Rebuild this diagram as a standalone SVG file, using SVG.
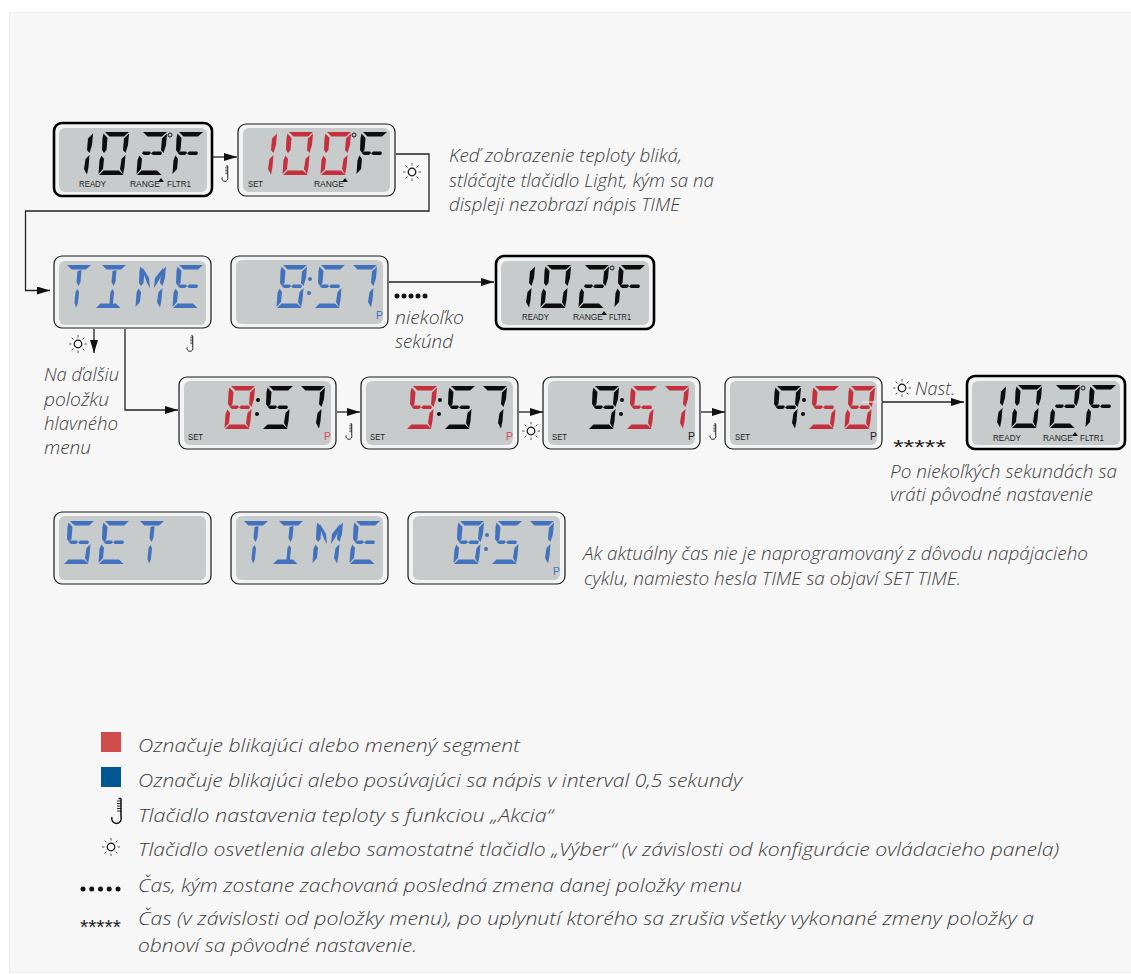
<svg xmlns="http://www.w3.org/2000/svg" width="1131" height="974" viewBox="0 0 1131 974">
<style>
.fr{fill:#f2f3f3;stroke:#1a1a1a;stroke-width:1.2}
.th{stroke:#000;stroke-width:2.6}
.scr{fill:#c8cbcc}
.k{fill:#0d0d0d}.r{fill:#c5303c}.b{fill:#4272bd}
.lb{font-family:"Liberation Sans",sans-serif;font-size:9.5px;fill:#222}
.p{font-family:"Liberation Sans",sans-serif;font-size:10.5px}
.t{font-family:"Open Sans","Noto Sans",sans-serif;font-style:italic;font-size:17.5px;font-weight:300;fill:#3c3c3c}
.l{font-size:18.5px}
.c{fill:none;stroke:#222;stroke-width:1.3}
.star{font-family:"Liberation Sans",sans-serif;fill:#222}
</style>
<defs>
<marker id="ah" markerUnits="userSpaceOnUse" markerWidth="14" markerHeight="10" refX="13" refY="4" orient="auto"><path d="M0 0L13 4L0 8z" fill="#111"/></marker>
<polygon id="a" points="7,0 31,0 26,4.500 11.500,4.500"/>
<polygon id="sb" points="31,1.500 30,13 27.500,21 25,18 26,6.500"/>
<polygon id="sc" points="27.500,23 26.500,35 25,42.500 22,37 23.500,27"/>
<polygon id="sd" points="1,43 5.500,38.500 21,38.500 25.500,43"/>
<polygon id="se" points="3.500,23.500 6,27 5,37 .5,42 1.500,28"/>
<polygon id="sf" points="5.500,1.500 9.500,6 8.500,18 6,21 4,18 4.500,6"/>
<polygon id="g1" points="7,19.500 14,19.500 15,21 13,23 8,23 6,21.500"/>
<polygon id="g2" points="17,19.500 25,19.500 26,21 25,23 17,23 15,21.500"/>
<polygon id="iu" points="17.500,6 21.500,5 20.500,17 18.500,21 16.500,17"/>
<polygon id="il" points="17.500,24 19,27 18,38 16,42.500 14.500,38 15.500,27"/>
<g id="d0"><use href="#a"/><use href="#sb"/><use href="#sc"/><use href="#sd"/><use href="#se"/><use href="#sf"/></g>
<g id="d1"><use href="#sb"/><use href="#sc"/></g>
<g id="d2"><use href="#a"/><use href="#sb"/><use href="#sd"/><use href="#se"/><use href="#g1"/><use href="#g2"/></g>
<g id="d5"><use href="#a"/><use href="#sf"/><use href="#sc"/><use href="#sd"/><use href="#g1"/><use href="#g2"/></g>
<g id="d7"><use href="#a"/><use href="#sb"/><use href="#sc"/></g>
<g id="d8"><use href="#d0"/><use href="#g1"/><use href="#g2"/></g>
<g id="d9"><use href="#a"/><use href="#sb"/><use href="#sc"/><use href="#sd"/><use href="#sf"/><use href="#g1"/><use href="#g2"/></g>
<g id="d4"><use href="#a"/><use href="#sb"/><use href="#sc"/><use href="#sf"/><use href="#g1"/><use href="#g2"/></g>
<g id="dF"><use href="#a"/><use href="#sf"/><use href="#se"/><use href="#g1"/><use href="#g2"/></g>
<g id="lT"><use href="#a"/><use href="#iu"/><use href="#il"/></g>
<g id="lI"><use href="#a"/><use href="#sd"/><use href="#iu"/><use href="#il"/></g>
<g id="lM"><use href="#sf"/><use href="#se"/><use href="#sb"/><use href="#sc"/><polygon points="8,3 14,13 15,23 12,18 8.500,8"/><polygon points="28,3 20,13 19,23 23,17 27.500,8"/></g>
<g id="lE"><use href="#a"/><use href="#sf"/><use href="#se"/><use href="#sd"/><use href="#g1"/><use href="#g2"/></g>
<circle id="dg" cx="0" cy="0" r="2" fill="none" stroke="#111" stroke-width="1"/>
<g id="co"><circle cx="0" cy="0" r="2"/><circle cx="-1" cy="14" r="2"/></g>
<polygon id="tri" points="0,4 3,0 6,4" fill="#111"/>
<g id="sun"><circle r="3.800" fill="none" stroke="#111" stroke-width="1.200"/><path stroke="#111" stroke-width=".7" d="M0-6.500V-9M0 6.500V9M-6.500 0H-9M6.500 0H9M-4.600-4.600L-6.400-6.400M4.600-4.600L6.400-6.400M-4.600 4.600L-6.400 6.400M4.600 4.600L6.400 6.400"/></g>
<g id="therm" fill="none" stroke="#111"><path d="M6-11.500H3.500M6-11.500V7A4.800 4.800 0 1 1 -3 7" stroke-width="1.500"/><path d="M6-9H2M6-6.500H2M6-4H2M6-1.500H2M6 1H2" stroke-width=".9"/></g>
</defs>
<rect width="1131" height="974" fill="#fff"/>
<rect x="9.500" y="12.500" width="1122" height="960" fill="#f7f7f7" stroke="#eee"/>

<g id="connectors" class="c">
<path d="M213 157H237" marker-end="url(#ah)"/>
<path d="M396 154H429V211H25.500V290.500H50" marker-end="url(#ah)"/>
<path d="M94 329V353" marker-end="url(#ah)"/>
<path d="M125 329V410H178" marker-end="url(#ah)"/>
<path d="M389 282H494" marker-end="url(#ah)"/>
<path d="M337 412H360" marker-end="url(#ah)"/>
<path d="M519 412H543" marker-end="url(#ah)"/>
<path d="M701 412H725" marker-end="url(#ah)"/>
<path d="M882 402H964" marker-end="url(#ah)"/>
</g>

<g id="d-102f-a"><rect class="fr th" x="54" y="123" width="158" height="73" rx="8"/><rect class="scr" x="59" y="128" width="148" height="64" rx="6"/>
<g class="k"><use href="#d1" x="62" y="132"/><use href="#d0" x="98" y="132"/><use href="#d2" x="136" y="132"/><use href="#dF" x="172" y="132"/></g><use href="#dg" x="170" y="135"/>
<text class="lb" x="79" y="187" textLength="27" lengthAdjust="spacingAndGlyphs">READY</text><text class="lb" x="130" y="187" textLength="30" lengthAdjust="spacingAndGlyphs">RANGE</text><use href="#tri" x="158" y="178"/><text class="lb" x="167" y="187" textLength="24" lengthAdjust="spacingAndGlyphs">FLTR1</text></g>

<g id="d-100f"><rect class="fr" x="238" y="124" width="157" height="72" rx="8"/><rect class="scr" x="243" y="128" width="147" height="64" rx="6"/>
<g class="r"><use href="#d1" x="246" y="132"/><use href="#d0" x="282" y="132"/><use href="#d0" x="320" y="132"/></g><use class="k" href="#dF" x="356" y="132"/><use href="#dg" x="354" y="135"/>
<text class="lb" x="248" y="187" textLength="15" lengthAdjust="spacingAndGlyphs">SET</text><text class="lb" x="314" y="187" textLength="30" lengthAdjust="spacingAndGlyphs">RANGE</text><use href="#tri" x="342" y="178"/></g>

<g id="d-time"><rect class="fr" x="54" y="256" width="157" height="72" rx="8"/><rect class="scr" x="59" y="261" width="147" height="64" rx="6"/>
<g class="b"><use href="#lT" x="60" y="265"/><use href="#lI" x="95" y="265"/><use href="#lM" x="135" y="265"/><use href="#lE" x="172" y="265"/></g></g>

<g id="d-857-a"><rect class="fr" x="231" y="256" width="157" height="72" rx="8"/><rect class="scr" x="236" y="260" width="147" height="64" rx="6"/>
<g class="b"><use href="#d8" x="276" y="265"/><use href="#co" x="310" y="279"/><use href="#d5" x="314" y="265"/><use href="#d7" x="346" y="265"/></g>
<text class="p" x="376" y="319" fill="#4272bd">P</text></g>

<g id="d-102f-b"><rect class="fr th" x="496" y="256" width="158" height="73" rx="8"/><rect class="scr" x="501" y="261" width="148" height="64" rx="6"/>
<g class="k"><use href="#d1" x="504" y="265"/><use href="#d0" x="540" y="265"/><use href="#d2" x="578" y="265"/><use href="#dF" x="614" y="265"/></g><use href="#dg" x="612" y="268"/>
<text class="lb" x="522" y="320" textLength="27" lengthAdjust="spacingAndGlyphs">READY</text><text class="lb" x="573" y="320" textLength="30" lengthAdjust="spacingAndGlyphs">RANGE</text><use href="#tri" x="601" y="311"/><text class="lb" x="609" y="320" textLength="22" lengthAdjust="spacingAndGlyphs">FLTR1</text></g>

<g id="d-set-1"><rect class="fr" x="179" y="377" width="157" height="72" rx="8"/><rect class="scr" x="184" y="381" width="147" height="64" rx="6"/>
<use class="r" href="#d8" x="224" y="386"/><g class="k"><use href="#co" x="258" y="400"/><use href="#d5" x="262" y="386"/><use href="#d7" x="294" y="386"/></g>
<text class="lb" x="188" y="440" textLength="15" lengthAdjust="spacingAndGlyphs">SET</text><text class="p" x="324" y="440" fill="#d05060">P</text></g>

<g id="d-set-2"><rect class="fr" x="361" y="377" width="157" height="72" rx="8"/><rect class="scr" x="366" y="381" width="147" height="64" rx="6"/>
<use class="r" href="#d9" x="406" y="386"/><g class="k"><use href="#co" x="440" y="400"/><use href="#d5" x="444" y="386"/><use href="#d7" x="476" y="386"/></g>
<text class="lb" x="370" y="440" textLength="15" lengthAdjust="spacingAndGlyphs">SET</text><text class="p" x="506" y="440" fill="#d05060">P</text></g>

<g id="d-set-3"><rect class="fr" x="543" y="377" width="157" height="72" rx="8"/><rect class="scr" x="548" y="381" width="147" height="64" rx="6"/>
<g class="k"><use href="#d9" x="588" y="386"/><use href="#co" x="622" y="400"/></g><g class="r"><use href="#d5" x="626" y="386"/><use href="#d7" x="658" y="386"/></g>
<text class="lb" x="552" y="440" textLength="15" lengthAdjust="spacingAndGlyphs">SET</text><text class="p" x="688" y="440" fill="#222">P</text></g>

<g id="d-set-4"><rect class="fr" x="725" y="377" width="157" height="72" rx="8"/><rect class="scr" x="730" y="381" width="147" height="64" rx="6"/>
<g class="k"><use href="#d4" x="770" y="386"/><use href="#co" x="804" y="400"/></g><g class="r"><use href="#d5" x="808" y="386"/><use href="#d8" x="844" y="386"/></g>
<text class="lb" x="735" y="440" textLength="15" lengthAdjust="spacingAndGlyphs">SET</text><text class="p" x="870" y="440" fill="#222">P</text>
<path d="M862 402H882" stroke="#f2f3f3" stroke-width="1"/></g>

<g id="d-102f-c"><rect class="fr th" x="967" y="376" width="158" height="73" rx="8"/><rect class="scr" x="972" y="381" width="148" height="64" rx="6"/>
<g class="k"><use href="#d1" x="975" y="385"/><use href="#d0" x="1011" y="385"/><use href="#d2" x="1049" y="385"/><use href="#dF" x="1085" y="385"/></g><use href="#dg" x="1083" y="388"/>
<text class="lb" x="993" y="441" textLength="28" lengthAdjust="spacingAndGlyphs">READY</text><text class="lb" x="1043" y="441" textLength="30" lengthAdjust="spacingAndGlyphs">RANGE</text><use href="#tri" x="1072" y="432"/><text class="lb" x="1080" y="441" textLength="24" lengthAdjust="spacingAndGlyphs">FLTR1</text></g>

<g id="d-set-label"><rect class="fr" x="54" y="512" width="157" height="72" rx="8"/><rect class="scr" x="59" y="516" width="147" height="64" rx="6"/>
<g class="b"><use href="#d5" x="63" y="521"/><use href="#lE" x="98" y="521"/><use href="#lT" x="133" y="521"/></g></g>

<g id="d-time-label"><rect class="fr" x="231" y="512" width="157" height="72" rx="8"/><rect class="scr" x="236" y="516" width="147" height="64" rx="6"/>
<g class="b"><use href="#lT" x="237" y="521"/><use href="#lI" x="272" y="521"/><use href="#lM" x="312" y="521"/><use href="#lE" x="349" y="521"/></g></g>

<g id="d-857-b"><rect class="fr" x="408" y="512" width="157" height="72" rx="8"/><rect class="scr" x="413" y="516" width="147" height="64" rx="6"/>
<g class="b"><use href="#d8" x="453" y="521"/><use href="#co" x="487" y="535"/><use href="#d5" x="491" y="521"/><use href="#d7" x="523" y="521"/></g>
<text class="p" x="553" y="575" fill="#4272bd">P</text></g>

<g id="icons">
<use href="#therm" transform="translate(224 173) scale(.62)"/>
<use href="#therm" transform="translate(189 343) scale(.62)"/>
<use href="#therm" transform="translate(348 431) scale(.62)"/>
<use href="#therm" transform="translate(712 431) scale(.62)"/>
<use href="#sun" x="412" y="172"/><use href="#sun" x="78" y="344"/><use href="#sun" x="531" y="431"/><use href="#sun" x="902" y="388"/>
<g fill="#111"><circle cx="397" cy="296" r="2.500"/><circle cx="404" cy="296" r="2.500"/><circle cx="411" cy="296" r="2.500"/><circle cx="418" cy="296" r="2.500"/><circle cx="425" cy="296" r="2.500"/></g>
<text class="star" x="893" y="454" font-size="20" textLength="53" lengthAdjust="spacingAndGlyphs">*****</text>
</g>

<g id="texts">
<text class="t" x="449" y="162" textLength="233" lengthAdjust="spacingAndGlyphs">Keď zobrazenie teploty bliká,</text>
<text class="t" x="449" y="187" textLength="265" lengthAdjust="spacingAndGlyphs">stláčajte tlačidlo Light, kým sa na</text>
<text class="t" x="449" y="211" textLength="231" lengthAdjust="spacingAndGlyphs">displeji nezobrazí nápis TIME</text>
<text class="t" x="395" y="324" textLength="69" lengthAdjust="spacingAndGlyphs">niekoľko</text>
<text class="t" x="395" y="348" textLength="58" lengthAdjust="spacingAndGlyphs">sekúnd</text>
<text class="t" x="44" y="381" textLength="75" lengthAdjust="spacingAndGlyphs">Na ďalšiu</text>
<text class="t" x="44" y="406" textLength="65" lengthAdjust="spacingAndGlyphs">položku</text>
<text class="t" x="44" y="430" textLength="74" lengthAdjust="spacingAndGlyphs">hlavného</text>
<text class="t" x="44" y="454" textLength="47" lengthAdjust="spacingAndGlyphs">menu</text>
<text class="t" x="915" y="395" textLength="40" lengthAdjust="spacingAndGlyphs">Nast.</text>
<text class="t" x="890" y="478" textLength="227" lengthAdjust="spacingAndGlyphs">Po niekoľkých sekundách sa</text>
<text class="t" x="890" y="501" textLength="203" lengthAdjust="spacingAndGlyphs">vráti pôvodné nastavenie</text>
<text class="t" x="583" y="560" textLength="505" lengthAdjust="spacingAndGlyphs">Ak aktuálny čas nie je naprogramovaný z dôvodu napájacieho</text>
<text class="t" x="584" y="585" textLength="377" lengthAdjust="spacingAndGlyphs">cyklu, namiesto hesla TIME sa objaví SET TIME.</text>
</g>

<g id="legend">
<rect x="101" y="732" width="20" height="20" fill="#cf4c4c"/>
<rect x="101" y="767" width="20" height="20" fill="#005792"/>
<use href="#therm" transform="translate(115 810)"/>
<use href="#sun" x="111" y="847"/>
<g fill="#111"><circle cx="83" cy="889" r="2.500"/><circle cx="91.700" cy="889" r="2.500"/><circle cx="100.500" cy="889" r="2.500"/><circle cx="109.200" cy="889" r="2.500"/><circle cx="118" cy="889" r="2.500"/></g>
<text class="star" x="80" y="934" font-size="21">*****</text>
<text class="t l" x="138" y="752" textLength="382" lengthAdjust="spacingAndGlyphs">Označuje blikajúci alebo menený segment</text>
<text class="t l" x="138" y="787" textLength="604" lengthAdjust="spacingAndGlyphs">Označuje blikajúci alebo posúvajúci sa nápis v interval 0,5 sekundy</text>
<text class="t l" x="138" y="822" textLength="415" lengthAdjust="spacingAndGlyphs">Tlačidlo nastavenia teploty s funkciou „Akcia“</text>
<text class="t l" x="138" y="856" textLength="921" lengthAdjust="spacingAndGlyphs">Tlačidlo osvetlenia alebo samostatné tlačidlo „Výber“ (v závislosti od konfigurácie ovládacieho panela)</text>
<text class="t l" x="138" y="892" textLength="604" lengthAdjust="spacingAndGlyphs">Čas, kým zostane zachovaná posledná zmena danej položky menu</text>
<text class="t l" x="138" y="925" textLength="896" lengthAdjust="spacingAndGlyphs">Čas (v závislosti od položky menu), po uplynutí ktorého sa zrušia všetky vykonané zmeny položky a</text>
<text class="t l" x="138" y="952" textLength="279" lengthAdjust="spacingAndGlyphs">obnoví sa pôvodné nastavenie.</text>
</g>
</svg>
